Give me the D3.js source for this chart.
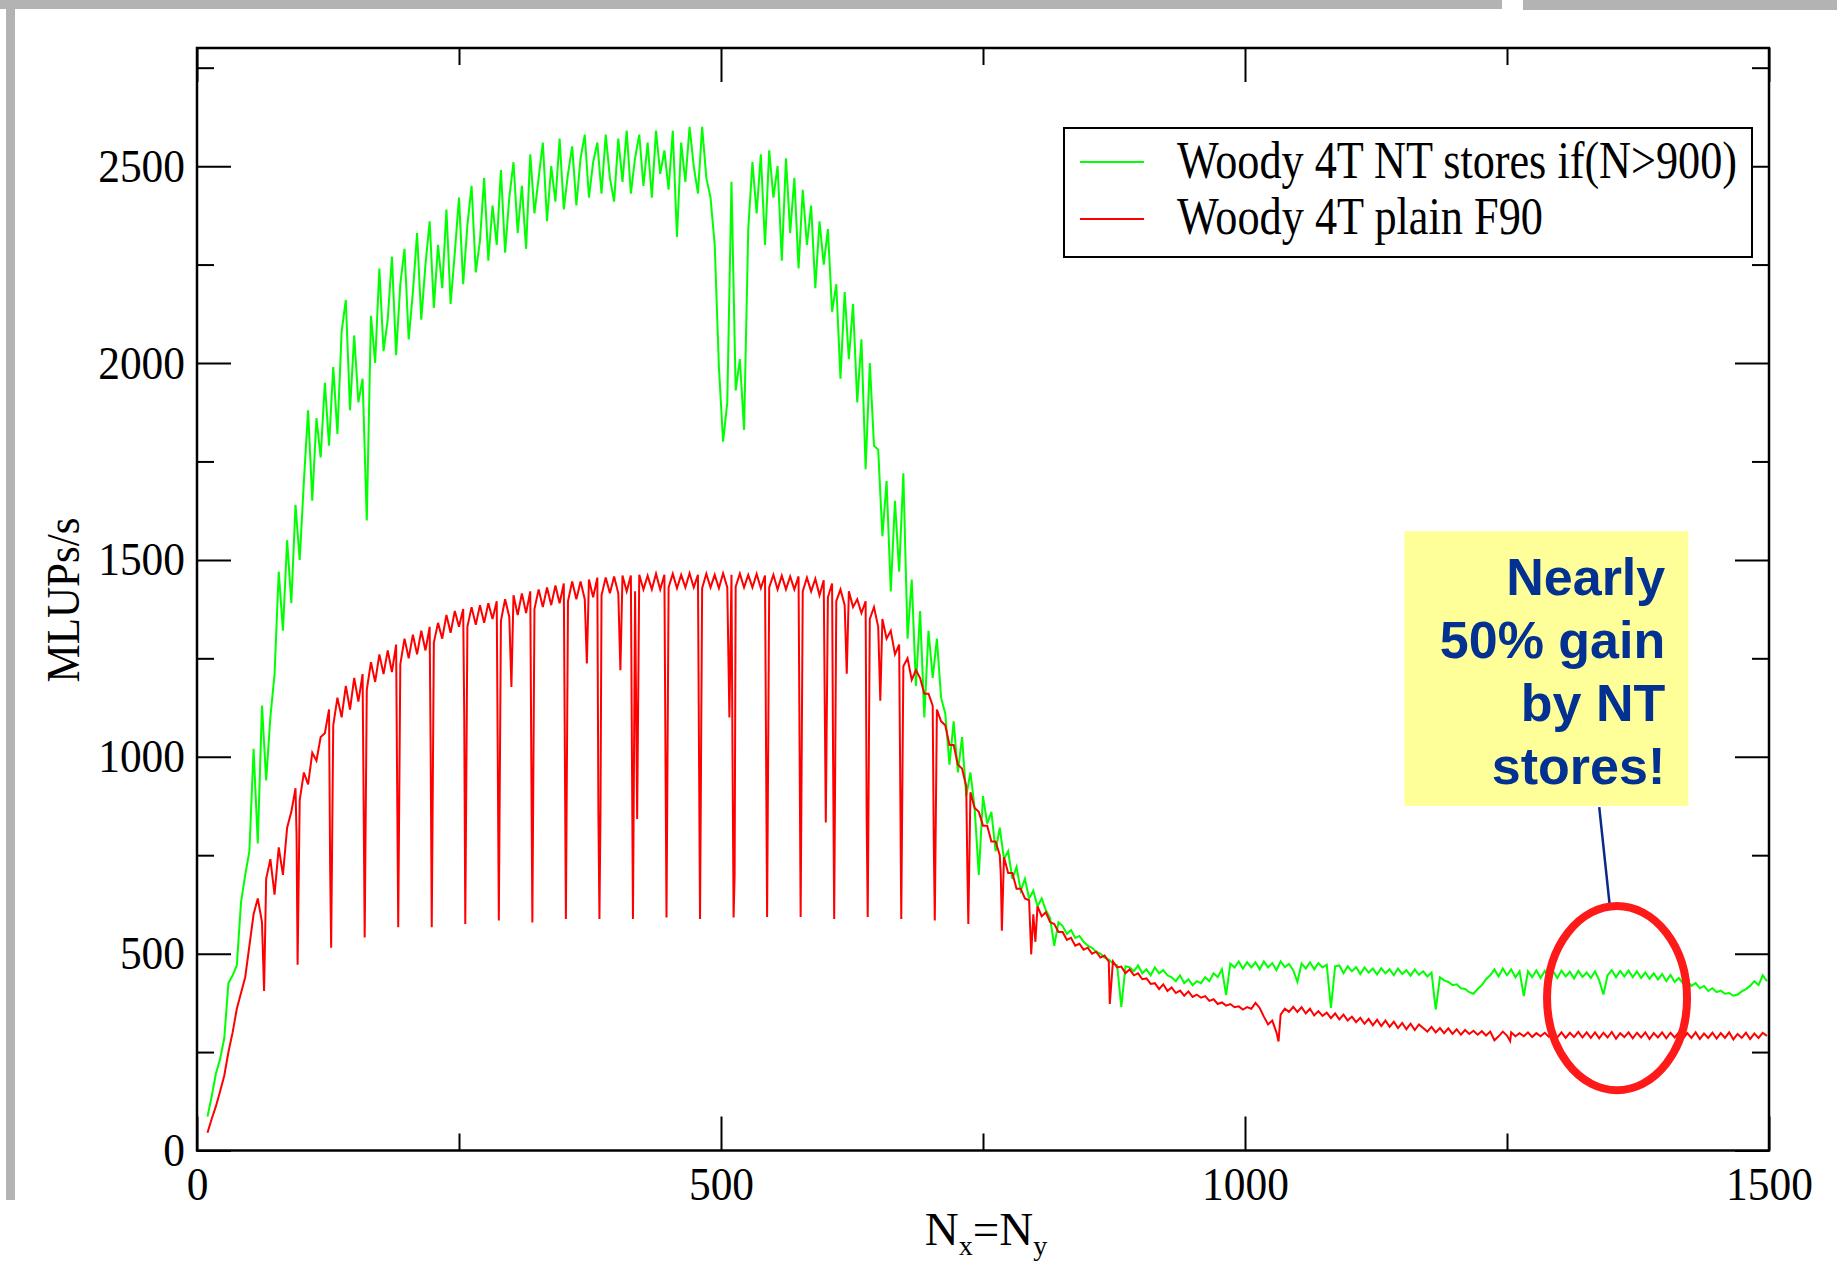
<!DOCTYPE html>
<html>
<head>
<meta charset="utf-8">
<script src="https://cdn.jsdelivr.net/npm/d3@7/dist/d3.min.js"></script>
<style>
    html, body { margin: 0; padding: 0; background: #fff; }
    svg { display: block; }
</style>
</head>
<body>
<svg id="chart"></svg>
<script>
const W = 1837, H = 1267;
const frame = { left: 197, right: 1769, top: 48, bottom: 1150.5 };

// problem sizes N = Nx = Ny, both runs sampled on the same grid
const gridN = d3.range(10, 1500, 4);

// MLUPs/s, "Woody 4T NT stores if(N>900)"
const greenValues = [
    86, 137, 195, 232, 285, 425, 445, 470, 630, 700,
    760, 1020, 780, 1130, 940, 1100, 1210, 1470, 1320, 1550,
    1390, 1640, 1500, 1700, 1880, 1650, 1860, 1760, 1950, 1790,
    1990, 1820, 2080, 2160, 1880, 2070, 1900, 1960, 1600, 2120,
    2000, 2240, 2030, 2110, 2270, 2020, 2200, 2290, 2060, 2180,
    2330, 2110, 2250, 2360, 2140, 2300, 2190, 2390, 2150, 2280,
    2420, 2200, 2350, 2450, 2230, 2310, 2470, 2260, 2400, 2300,
    2490, 2280, 2420, 2510, 2330, 2450, 2290, 2530, 2380, 2470,
    2560, 2360, 2500, 2410, 2570, 2390, 2480, 2550, 2400, 2520,
    2580, 2420, 2510, 2560, 2430, 2580, 2470, 2410, 2570, 2460,
    2590, 2430, 2520, 2580, 2450, 2560, 2420, 2590, 2480, 2540,
    2440, 2590, 2320, 2560, 2460, 2600, 2500, 2430, 2600, 2470,
    2420, 2300, 1990, 1800, 1900, 2460, 1930, 2010, 1830, 2340,
    2510, 2380, 2530, 2300, 2540, 2420, 2500, 2260, 2520, 2330,
    2470, 2240, 2440, 2300, 2400, 2190, 2360, 2250, 2340, 2130,
    2200, 1960, 2180, 2010, 2150, 1900, 2060, 1730, 2000, 1790,
    1780, 1560, 1700, 1420, 1650, 1470, 1720, 1300, 1450, 1180,
    1370, 1100, 1320, 1200, 1300, 1150, 1110, 980, 1090, 960,
    1050, 900, 960, 870, 700, 900, 830, 860, 760, 820,
    740, 760, 690, 720, 660, 690, 640, 660, 620, 640,
    610, 590, 520, 580, 570, 550, 560, 540, 545, 530,
    520, 515, 505, 500, 490, 485, 475, 470, 365, 468,
    465, 455, 470, 450, 460, 445, 465, 450, 458, 445,
    440, 430, 445, 425, 435, 420, 430, 425, 440, 430,
    450, 440, 460, 395, 475, 465, 480, 462, 478, 465,
    478, 460, 480, 465, 476, 458, 480, 466, 474, 458,
    428, 475, 462, 478, 460, 476, 465, 472, 362, 468,
    470, 450, 468, 455, 466, 448, 465, 452, 462, 447,
    463, 450, 460, 445, 462, 448, 458, 444, 460, 446,
    455, 442, 452, 358, 440, 432, 428, 420, 422, 412,
    410, 402, 398, 410, 420, 435, 445, 460, 442, 462,
    445, 460, 440, 455, 392, 455, 440, 457, 438, 456,
    440, 455, 438, 457, 442, 454, 437, 456, 441, 452,
    438, 455, 432, 396, 445, 458, 440, 456, 442, 457,
    440, 455, 438, 452, 436, 450, 434, 448, 430, 446,
    428, 438, 424, 430, 418, 425, 412, 418, 405, 412,
    402, 406, 398, 400, 393, 396, 404, 410, 418, 430,
    420, 445, 430
];

// MLUPs/s, "Woody 4T plain F90"
const redValues = [
    45, 80, 112, 150, 190, 250, 300, 360, 400, 440,
    520, 600, 640, 580, 690, 740, 650, 770, 700, 820,
    860, 920, 890, 960, 930, 1010, 990, 1050, 1060, 1120,
    1080, 1150, 1100, 1180, 1120, 1200, 1140, 1210, 1170, 1240,
    1190, 1260, 1210, 1270, 1215, 1285, 1235, 1300, 1250, 1310,
    1260, 1320, 1270, 1330, 1290, 1340, 1300, 1360, 1315, 1370,
    1330, 1375, 1330, 1380, 1335, 1385, 1340, 1390, 1350, 1395,
    1345, 1400, 1355, 1410, 1360, 1415, 1365, 1420, 1375, 1425,
    1380, 1430, 1385, 1435, 1390, 1440, 1395, 1445, 1400, 1445,
    1400, 1450, 1405, 1455, 1410, 1455, 1415, 1458, 1415, 1460,
    1420, 1460, 1420, 1462, 1425, 1460, 1425, 1465, 1425, 1462,
    1430, 1465, 1428, 1462, 1430, 1466, 1430, 1462, 1428, 1465,
    1430, 1462, 1428, 1466, 1430, 1462, 1432, 1465, 1430, 1462,
    1430, 1464, 1428, 1460, 1430, 1462, 1425, 1460, 1425, 1458,
    1425, 1458, 1420, 1455, 1420, 1452, 1410, 1448, 1405, 1440,
    1395, 1425, 1385, 1420, 1380, 1400, 1365, 1395, 1350, 1380,
    1330, 1350, 1300, 1320, 1260, 1285, 1230, 1250, 1195, 1220,
    1200, 1160, 1160, 1130, 1120, 1090, 1080, 1030, 1030, 980,
    970, 925, 910, 870, 860, 825, 825, 785, 785, 750,
    745, 705, 705, 665, 665, 640, 635, 600, 620, 595,
    605, 580, 575, 555, 555, 535, 540, 520, 525, 510,
    515, 500, 505, 490, 495, 480, 480, 465, 467, 450,
    460, 445, 450, 435, 437, 423, 425, 410, 422, 405,
    414, 400, 406, 393, 404, 390, 396, 388, 392, 380,
    384, 372, 376, 368, 372, 364, 366, 358, 364, 360,
    375, 362, 340, 320, 330, 300, 345, 360, 352, 365,
    352, 364, 348, 360, 343, 354, 342, 350, 336, 348,
    333, 345, 330, 340, 326, 337, 322, 334, 318, 332,
    316, 330, 314, 327, 311, 324, 308, 322, 306, 320,
    311, 302, 314, 300, 311, 298, 310, 296, 308, 294,
    306, 296, 304, 294, 303, 292, 302, 280, 290, 302,
    292, 300, 290, 298, 290, 300, 288, 298, 290, 299,
    289, 301, 287, 300, 286, 299, 288, 301, 287, 300,
    286, 300, 285, 299, 287, 301, 284, 298, 288, 300,
    285, 299, 287, 300, 283, 298, 287, 300, 285, 299,
    287, 300, 284, 298, 286, 300, 283, 297, 286, 299,
    284, 298, 286, 300, 282, 296, 286, 299, 283, 297,
    286, 299, 291
];

// narrow drops of the plain F90 run (N off the sampling grid)
const redDips = [
    [64, 405],
    [95, 800], [96, 472], [127, 730], [128, 515], [159, 885], [160, 541],
    [191, 920], [192, 567], [223, 1000], [224, 567], [255, 1100], [256, 575],
    [287, 995], [288, 584], [300, 1177], [319, 988], [320, 579],
    [351, 1014], [352, 588], [372, 1237], [383, 860], [384, 588], [385, 860],
    [404, 1220], [415, 1014], [416, 588], [420, 842],
    [447, 1014], [448, 592], [479, 1014], [480, 588],
    [508, 1100], [511, 1000], [512, 592], [513, 700],
    [543, 1014], [544, 593], [575, 1020], [576, 593],
    [600, 833], [607, 980], [608, 588], [620, 1211],
    [639, 842], [640, 593], [652, 1142], [671, 945], [672, 588],
    [703, 790], [704, 584], [735, 730], [736, 575],
    [767, 700], [768, 558], [796, 498], [800, 530],
    [871, 372], [1032, 277], [1253, 278]
];

const seriesNames = ["Woody 4T NT stores if(N>900)", "Woody 4T plain F90"];
const seriesColors = ["#00ff00", "#ff0000"];

const xMajor = [0, 500, 1000, 1500];
const xMinor = [250, 750, 1250];
const yMajor = [0, 500, 1000, 1500, 2000, 2500];
const yMinor = [250, 750, 1250, 1750, 2250, 2750];

const noteLines = ["Nearly", "50% gain", "by NT", "stores!"];

const svg = d3.select("#chart")
    .attr("width", W)
    .attr("height", H)
    .attr("viewBox", `0 0 ${W} ${H}`);

svg.append("rect").attr("width", W).attr("height", H).attr("fill", "#fff");

// slide borders
svg.append("rect").attr("x", 0).attr("y", 0).attr("width", 1502).attr("height", 9).attr("fill", "#b3b3b3");
svg.append("rect").attr("x", 1523).attr("y", 0).attr("width", W - 1523).attr("height", 10).attr("fill", "#b3b3b3");
svg.append("rect").attr("x", 6).attr("y", 0).attr("width", 9).attr("height", 1200).attr("fill", "#b3b3b3");

const x = d3.scaleLinear().domain([0, 1500]).range([frame.left, frame.right]);
const y = d3.scaleLinear().domain([0, 2800]).range([frame.bottom, frame.top]);

const green = gridN.map((n, i) => [n, greenValues[i]]);
const red = gridN.map((n, i) => [n, redValues[i]])
    .concat(redDips)
    .sort((a, b) => a[0] - b[0]);

const line = d3.line()
    .x(d => x(d[0]))
    .y(d => y(d[1]));

const plot = svg.append("g");

plot.append("path")
    .datum(green)
    .attr("d", line)
    .attr("fill", "none")
    .attr("stroke", seriesColors[0])
    .attr("stroke-width", 2);

plot.append("path")
    .datum(red)
    .attr("d", line)
    .attr("fill", "none")
    .attr("stroke", seriesColors[1])
    .attr("stroke-width", 2);

// inward ticks on all four sides
function ticks(axis, values, len, transform) {
    const a = svg.append("g")
        .attr("transform", transform)
        .call(axis.tickValues(values).tickSize(-len).tickSizeOuter(0).tickFormat(""));
    a.select(".domain").remove();
    a.selectAll("line").attr("stroke", "#000").attr("stroke-width", 2);
}
ticks(d3.axisBottom(x), xMajor, 34, `translate(0,${frame.bottom})`);
ticks(d3.axisBottom(x), xMinor, 17, `translate(0,${frame.bottom})`);
ticks(d3.axisTop(x), xMajor, 34, `translate(0,${frame.top})`);
ticks(d3.axisTop(x), xMinor, 17, `translate(0,${frame.top})`);
ticks(d3.axisLeft(y), yMajor, 34, `translate(${frame.left},0)`);
ticks(d3.axisLeft(y), yMinor, 17, `translate(${frame.left},0)`);
ticks(d3.axisRight(y), yMajor, 34, `translate(${frame.right},0)`);
ticks(d3.axisRight(y), yMinor, 17, `translate(${frame.right},0)`);

svg.append("rect")
    .attr("x", frame.left)
    .attr("y", frame.top)
    .attr("width", frame.right - frame.left)
    .attr("height", frame.bottom - frame.top)
    .attr("fill", "none")
    .attr("stroke", "#000")
    .attr("stroke-width", 2.5);

// tick labels
const xLab = svg.append("g")
    .attr("transform", `translate(0,${frame.bottom})`)
    .call(d3.axisBottom(x).tickValues(xMajor).tickSize(0).tickPadding(16).tickFormat(d3.format("d")));
xLab.select(".domain").remove();

const yLab = svg.append("g")
    .attr("transform", `translate(${frame.left},0)`)
    .call(d3.axisLeft(y).tickValues(yMajor).tickSize(0).tickPadding(12).tickFormat(d3.format("d")));
yLab.select(".domain").remove();

svg.selectAll(".tick text")
    .attr("font-family", "'Liberation Serif', serif")
    .attr("font-size", 47)
    .attr("fill", "#000")
    .attr("textLength", d => String(d).length * 21.7)
    .attr("lengthAdjust", "spacingAndGlyphs");

// axis titles
svg.append("text")
    .attr("transform", "translate(79,600) rotate(-90)")
    .attr("text-anchor", "middle")
    .attr("font-family", "'Liberation Serif', serif")
    .attr("font-size", 47)
    .attr("textLength", 165)
    .attr("lengthAdjust", "spacingAndGlyphs")
    .text("MLUPs/s");

const xt = svg.append("text")
    .attr("x", 986)
    .attr("y", 1245)
    .attr("text-anchor", "middle")
    .attr("font-family", "'Liberation Serif', serif")
    .attr("font-size", 47);
xt.append("tspan").text("N");
xt.append("tspan").attr("font-size", 28).attr("dy", 10).text("x");
xt.append("tspan").attr("dy", -10).text("=N");
xt.append("tspan").attr("font-size", 28).attr("dy", 10).text("y");

// legend
const legend = svg.append("g");
legend.append("rect")
    .attr("x", 1064).attr("y", 128)
    .attr("width", 688).attr("height", 129)
    .attr("fill", "#fff")
    .attr("stroke", "#000")
    .attr("stroke-width", 2);

const legendWidths = [560, 366];
seriesNames.forEach((name, i) => {
    const ly = 162 + i * 57;
    legend.append("line")
        .attr("x1", 1080).attr("x2", 1144)
        .attr("y1", ly).attr("y2", ly)
        .attr("stroke", seriesColors[i])
        .attr("stroke-width", 2);
    legend.append("text")
        .attr("x", 1177)
        .attr("y", 178 + i * 56)
        .attr("font-family", "'Liberation Serif', serif")
        .attr("font-size", 52)
        .attr("textLength", legendWidths[i])
        .attr("lengthAdjust", "spacingAndGlyphs")
        .text(name);
});

// annotation
const note = svg.append("g");
note.append("rect")
    .attr("x", x(1152))
    .attr("y", y(1573))
    .attr("width", x(1423) - x(1152))
    .attr("height", y(875) - y(1573))
    .attr("fill", "#ffff99");

note.selectAll("text.note")
    .data(noteLines)
    .enter()
    .append("text")
    .attr("class", "note")
    .attr("x", x(1401))
    .attr("y", (d, i) => y(1411 - i * 160))
    .attr("text-anchor", "end")
    .attr("font-family", "'Liberation Sans', Arial, sans-serif")
    .attr("font-weight", "bold")
    .attr("font-size", 52)
    .attr("fill", "#023192")
    .text(d => d);

note.append("line")
    .attr("x1", x(1338)).attr("y1", y(872))
    .attr("x2", x(1348)).attr("y2", y(623))
    .attr("stroke", "#0a2a8a")
    .attr("stroke-width", 2.5);

note.append("ellipse")
    .attr("cx", x(1355))
    .attr("cy", y(387))
    .attr("rx", x(1355 + 66.8) - x(1355))
    .attr("ry", y(387) - y(387 + 234))
    .attr("fill", "none")
    .attr("stroke", "#ff1a1a")
    .attr("stroke-width", 8);
</script>
</body>
</html>
